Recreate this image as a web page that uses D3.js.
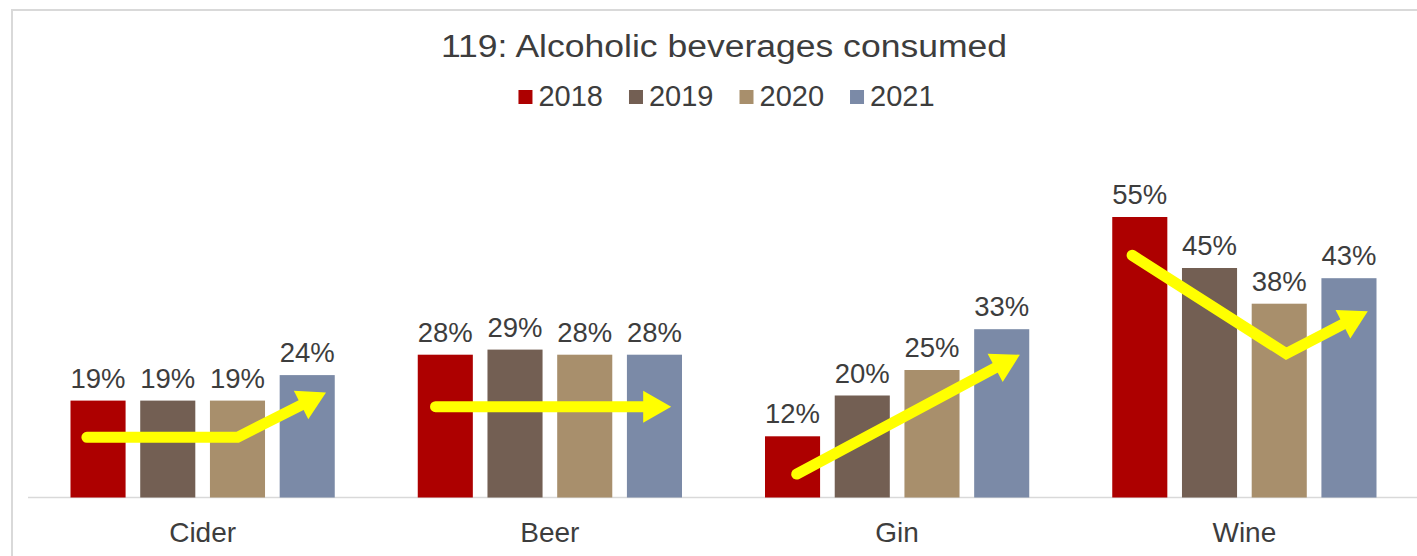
<!DOCTYPE html>
<html>
<head>
<meta charset="utf-8">
<script src="https://cdn.jsdelivr.net/npm/d3@7"></script>
<style>
  body { margin: 0; background: #fff; }
  svg { display: block; font-family: "Liberation Sans", Arial, sans-serif; }
</style>
</head>
<body>
<svg id="chart" width="1417" height="556"></svg>
<script>
// chart data
const categories = ["Cider", "Beer", "Gin", "Wine"];
const years = ["2018", "2019", "2020", "2021"];
const v2018 = [19, 28, 12, 55];
const v2019 = [19, 29, 20, 45];
const v2020 = [19, 28, 25, 38];
const v2021 = [24, 28, 33, 43];
const yearColors = ["#ad0000", "#735f53", "#a88f6c", "#7b8aa7"];

// yellow trend arrows: [bar position (0 = 2018 bar centre), value in %]
const arrowCider = [[-0.16, 11.8], [2.0, 11.8], [3.27, 20.6]];
const arrowBeer  = [[-0.14, 17.8], [3.24, 17.8]];
const arrowGin   = [[0.06, 4.6], [3.26, 28.0]];
const arrowWine  = [[-0.11, 47.5], [2.1, 28.2], [3.27, 36.5]];
const arrows = [["Cider", arrowCider], ["Beer", arrowBeer], ["Gin", arrowGin], ["Wine", arrowWine]];

const seriesValues = [v2018, v2019, v2020, v2021];

const svg = d3.select('#chart');
const textColor = '#3d3d3d';

// outer chart border (cut off on the right / bottom like the picture)
svg.append('rect')
  .attr('x', 12).attr('y', 10)
  .attr('width', 1440).attr('height', 580)
  .attr('fill', 'none')
  .attr('stroke', '#d9d9d9')
  .attr('stroke-width', 2);

const baseY = 497.5;
const x0 = d3.scaleBand()
  .domain(categories)
  .range([29, 1418]);

const x1 = d3.scaleBand()
  .domain(years)
  .range([41.5, x0.bandwidth() - 41.5])
  .paddingInner(0.21);

const y = d3.scaleLinear()
  .domain([0, 60])
  .range([baseY, baseY - 306]);

// axis line
svg.append('line')
  .attr('x1', 28).attr('x2', 1417)
  .attr('y1', baseY).attr('y2', baseY)
  .attr('stroke', '#d9d9d9')
  .attr('stroke-width', 1.5);

// bars
const groups = svg.selectAll('g.cat')
  .data(categories)
  .enter()
  .append('g')
  .attr('class', 'cat')
  .attr('transform', c => `translate(${x0(c)},0)`);

groups.selectAll('rect')
  .data((c, ci) => years.map((yr, si) => ({ yr, si, v: seriesValues[si][ci] })))
  .enter()
  .append('rect')
  .attr('x', d => x1(d.yr))
  .attr('y', d => y(d.v))
  .attr('width', x1.bandwidth())
  .attr('height', d => baseY - y(d.v))
  .attr('fill', d => yearColors[d.si]);

groups.selectAll('text.val')
  .data((c, ci) => years.map((yr, si) => ({ yr, si, v: seriesValues[si][ci] })))
  .enter()
  .append('text')
  .attr('class', 'val')
  .attr('x', d => x1(d.yr) + x1.bandwidth() / 2)
  .attr('y', d => y(d.v) - 13)
  .attr('text-anchor', 'middle')
  .attr('fill', textColor)
  .style('font-size', '27.5px')
  .text(d => d.v + '%');

// category labels
svg.selectAll('text.cat')
  .data(categories)
  .enter()
  .append('text')
  .attr('class', 'cat')
  .attr('x', c => x0(c) + x0.bandwidth() / 2)
  .attr('y', 542)
  .attr('text-anchor', 'middle')
  .attr('fill', textColor)
  .style('font-size', '28px')
  .text(c => c);

// yellow arrows
const barPos = d3.scaleLinear()
  .domain([0, 3])
  .range([x1('2018') + x1.bandwidth() / 2, x1('2021') + x1.bandwidth() / 2]);

const headLen = 28, headHalf = 16;
arrows.forEach(([cat, pts]) => {
  const p = pts.map(([b, v]) => [x0(cat) + barPos(b), y(v)]);
  const tip = p[p.length - 1];
  const prev = p[p.length - 2];
  const dx = tip[0] - prev[0], dy = tip[1] - prev[1];
  const len = Math.sqrt(dx * dx + dy * dy);
  const ux = dx / len, uy = dy / len;
  const base = [tip[0] - ux * headLen, tip[1] - uy * headLen];
  const lineEnd = [tip[0] - ux * headLen * 0.8, tip[1] - uy * headLen * 0.8];
  const linePts = p.slice(0, -1).concat([lineEnd]);

  svg.append('path')
    .attr('d', d3.line()(linePts))
    .attr('fill', 'none')
    .attr('stroke', '#ffff00')
    .attr('stroke-width', 11)
    .attr('stroke-linecap', 'round')
    .attr('stroke-linejoin', 'miter');

  svg.append('path')
    .attr('d', d3.line()([
      tip,
      [base[0] - uy * headHalf, base[1] + ux * headHalf],
      [base[0] + uy * headHalf, base[1] - ux * headHalf]
    ]) + 'Z')
    .attr('fill', '#ffff00');
});

// title (the picture's text is a bit wider than the font, so stretch it)
svg.append('text')
  .attr('x', 724)
  .attr('y', 57)
  .attr('text-anchor', 'middle')
  .attr('fill', textColor)
  .attr('textLength', 566)
  .attr('lengthAdjust', 'spacingAndGlyphs')
  .style('font-size', '31px')
  .text('119: Alcoholic beverages consumed');

// legend
const legend = svg.append('g');
let lx = 0;
years.forEach((yr, i) => {
  const item = legend.append('g').attr('transform', `translate(${lx},0)`);
  item.append('rect')
    .attr('x', 0).attr('y', 90)
    .attr('width', 14).attr('height', 14)
    .attr('fill', yearColors[i]);
  const t = item.append('text')
    .attr('x', 20).attr('y', 106)
    .attr('fill', textColor)
    .style('font-size', '29px')
    .text(yr);
  lx += 20 + t.node().getComputedTextLength() + 26;
});
const legendW = lx - 26;
legend.attr('transform', `translate(${726.5 - legendW / 2},0)`);
</script>
</body>
</html>
